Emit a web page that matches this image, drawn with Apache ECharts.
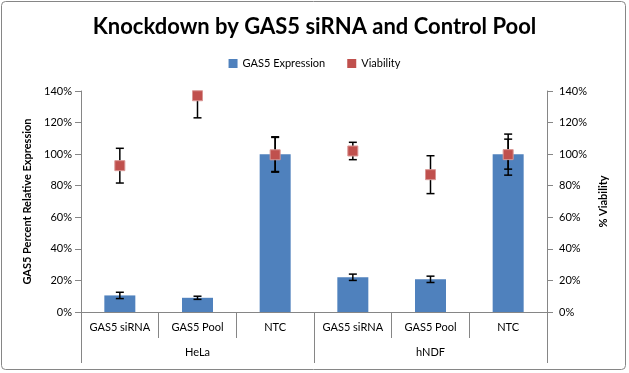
<!DOCTYPE html>
<html><head><meta charset="utf-8">
<script src="https://cdn.jsdelivr.net/npm/echarts@6/dist/echarts.min.js"></script>
<style>html,body{margin:0;padding:0;background:#fff}#c{width:629px;height:373px}</style>
</head><body><div id="c"></div>
<script>
const categories = ['GAS5 siRNA','GAS5 Pool','NTC','GAS5 siRNA','GAS5 Pool','NTC'];
const groups = ['HeLa','hNDF'];
const expression = [10.5, 9, 100, 22, 20.7, 100];
const expressionErr = [2, 1, 11, 2, 2, 9.5];
const viability = [92.7, 137, 99.6, 102, 87, 99.7];
const viabilityErr = [11, 14, 11, 5.5, 12, 13];
const yTicks = [0,20,40,60,80,100,120,140];

const FONT = 'Lato';
const chart = echarts.init(document.getElementById('c'), null, {renderer:'canvas'});

function errItem(values, errs){
  return function(params, api){
    const i = api.value(0);
    const v = values[i], e = errs[i];
    const top = api.coord([i, Math.min(v+e, 140)]);
    const bot = api.coord([i, Math.max(v-e, 0)]);
    const x = top[0], hw = 4;
    const st = {stroke:'#000', lineWidth:1.5};
    const children = [
      {type:'line', shape:{x1:x,y1:top[1],x2:x,y2:bot[1]}, style:st}
    ];
    if (v+e <= 140) children.push({type:'line', shape:{x1:x-hw,y1:top[1],x2:x+hw,y2:top[1]}, style:st});
    children.push({type:'line', shape:{x1:x-hw,y1:bot[1],x2:x+hw,y2:bot[1]}, style:st});
    return {type:'group', children};
  };
}

const idx = categories.map((_, i) => [i]);

chart.setOption({
  animation:false,
  graphic:[{type:'rect', shape:{x:1.5,y:1.5,width:624,height:368,r:4}, style:{fill:'none',stroke:'#868686',lineWidth:1}}],
  title:{text:'Knockdown by GAS5 siRNA and Control Pool', left:'center', top:11,
    textStyle:{fontFamily:FONT,fontWeight:'bold',fontSize:22,color:'#000'}},
  legend:{top:53, left:'center', itemWidth:9, itemHeight:9, itemGap:22,
    textStyle:{fontFamily:FONT,fontSize:11,color:'#000'},
    data:[{name:'GAS5 Expression',icon:'rect'},
          {name:'Viability',icon:'rect',itemStyle:{color:'#C0504D',borderWidth:0,opacity:1}}]},
  grid:{left:81, right:82, top:91, bottom:61},
  xAxis:[
    {type:'category', data:categories, position:'bottom',
      axisLine:{lineStyle:{color:'#868686'}},
      axisTick:{show:true, alignWithLabel:false, length:26, lineStyle:{color:'#868686'}},
      axisLabel:{fontFamily:FONT,fontSize:11,color:'#000',margin:10, interval:0}},
    {type:'category', data:groups, position:'bottom',
      axisLine:{show:false},
      axisTick:{show:true, alignWithLabel:false, length:51, lineStyle:{color:'#868686'}},
      axisLabel:{fontFamily:FONT,fontSize:11,color:'#000',margin:35}}
  ],
  yAxis:[
    {type:'value', min:0, max:140, interval:20, position:'left',
      name:'GAS5 Percent Relative Expression', nameLocation:'middle', nameGap:47, nameRotate:90,
      nameTextStyle:{fontFamily:FONT,fontSize:11,fontWeight:'bold',color:'#000'},
      axisLine:{show:true,lineStyle:{color:'#868686'}},
      axisTick:{show:true,length:6,lineStyle:{color:'#868686'}},
      axisLabel:{fontFamily:FONT,fontSize:11,color:'#000',margin:9, formatter:v=>v+'%'},
      splitLine:{show:false}},
    {type:'value', min:0, max:140, interval:20, position:'right',
      name:'% Viability', nameLocation:'middle', nameGap:48, nameRotate:90,
      nameTextStyle:{fontFamily:FONT,fontSize:11,fontWeight:'bold',color:'#000'},
      axisLine:{show:true,lineStyle:{color:'#868686'}},
      axisTick:{show:true,length:6,lineStyle:{color:'#868686'}},
      axisLabel:{fontFamily:FONT,fontSize:11,color:'#000',margin:12, formatter:v=>v+'%'},
      splitLine:{show:false}}
  ],
  series:[
    {name:'GAS5 Expression', type:'bar', xAxisIndex:0, yAxisIndex:0, data:expression,
      barWidth:31, itemStyle:{color:'#4F81BD'}, z:2},
    {name:'Expression err', type:'custom', xAxisIndex:0, yAxisIndex:0, data:idx,
      renderItem:errItem(expression, expressionErr), z:3, silent:true},
    {name:'Viability', type:'scatter', xAxisIndex:0, yAxisIndex:1, data:viability,
      symbol:'rect', symbolSize:10,
      itemStyle:{color:'#C0504D', opacity:1, borderColor:'#D99694', borderWidth:1}, z:5},
    {name:'Viability err', type:'custom', xAxisIndex:0, yAxisIndex:1, data:idx,
      renderItem:errItem(viability, viabilityErr), z:4, silent:true}
  ]
});
</script></body></html>
